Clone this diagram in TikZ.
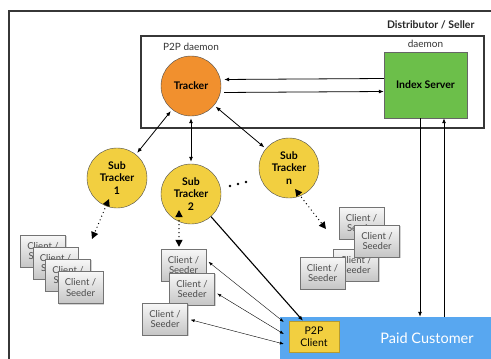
\documentclass[tikz,border=0pt]{standalone}
\usepackage{fontspec}
\setmainfont{Lato}
\usetikzlibrary{arrows.meta,positioning,shadows,calc}
\definecolor{trkorange}{RGB}{241,144,46}
\definecolor{subgelb}{RGB}{242,207,64}
\definecolor{idxgruen}{RGB}{108,191,74}
\definecolor{kundblau}{RGB}{88,167,240}
\definecolor{rand}{RGB}{55,55,55}
\tikzset{
  rahmen/.style={draw=rand,line width=1.4pt},
  trk/.style={circle,draw=black!70,fill=trkorange,minimum size=60pt,inner sep=0pt,
    align=center,font=\bfseries\fontsize{10.5}{12.3}\selectfont},
  subtrk/.style={trk,fill=subgelb},
  server/.style={rectangle,draw=black!60,fill=idxgruen,minimum width=83pt,minimum height=66pt,
    font=\bfseries\fontsize{10.5}{12}\selectfont},
  client/.style={rectangle,draw=black!55,top color=gray!6,bottom color=gray!45,
    minimum width=45pt,minimum height=32pt,inner sep=1pt,align=center,text=black!70,
    font=\fontsize{9.5}{10.5}\selectfont,
    drop shadow={opacity=0.35,shadow xshift=1pt,shadow yshift=-1pt}},
  etikett/.style={font=\fontsize{10}{12}\selectfont,text=black!80},
  pfeil/.style={-{Latex[length=5pt,width=4pt]},line width=0.8pt},
  dpfeil/.style={{Latex[length=5pt,width=4pt]}-{Latex[length=5pt,width=4pt]},line width=0.8pt},
  dunn/.style={{Latex[length=4pt,width=3pt]}-{Latex[length=4pt,width=3pt]},line width=0.4pt},
  punkt/.style={{Triangle[length=7pt,width=7pt]}-{Triangle[length=7pt,width=7pt]},
    line width=1.4pt,dash pattern=on 0pt off 4pt,line cap=round},
}
\begin{document}
\begin{tikzpicture}[x=1pt,y=-1pt]
  \useasboundingbox (0,0) rectangle (491,359);
  \clip (0,0) rectangle (491,359);
  \draw[rahmen] (9,11) rectangle (505,375);
  \node[anchor=east,font=\fontsize{10.5}{12}\selectfont\bfseries,text=black!85] (dist) at (478,25) {Distributor / Seller};
  \draw[rahmen] (141,36) rectangle (484,128);
  \node[etikett] (p2pd) at (191,47) {P2P daemon};
  \node[etikett] (daem) at (425.5,44) {daemon};
  \node[trk] (tracker) at (191,86) {Tracker};
  \node[server] (index) at (425.5,85) {Index Server};
  \draw[pfeil,shorten >=3pt] ([yshift=6.5pt]index.west) -- ([yshift=6.5pt]tracker.east);
  \draw[pfeil,shorten <=3pt] ([yshift=-6.5pt]tracker.east) -- ([yshift=-6.5pt]index.west);
  \node[subtrk] (st1) at (117,178) {Sub\\Tracker\\1};
  \node[subtrk] (st2) at (191,194) {Sub\\Tracker\\2};
  \node[subtrk] (stn) at (289,168) {Sub\\Tracker\\n};
  \draw[dpfeil,shorten >=2pt,shorten <=2pt] (tracker) -- (st1);
  \draw[dpfeil,shorten >=2pt,shorten <=2pt] (tracker) -- (st2);
  \draw[dpfeil,shorten >=2pt,shorten <=2pt] (tracker) -- (stn);
  \foreach \x/\y in {230/186,238/184,246/182}
    \fill (\x,\y) circle (1.3pt);
  % client stacks
  \node[client] (c1a) at (43,251) {Client /\\Seeder};
  \node[client] (c1b) at (55.5,263) {Client /\\Seeder};
  \node[client] (c1c) at (68,275) {Client /\\Seeder};
  \node[client] (c1d) at (80.5,287.5) {Client /\\Seeder};
  \node[client] (c2a) at (183.5,265) {Client /\\Seeder};
  \node[client] (c2b) at (192,289) {Client /\\Seeder};
  \node[client] (c2c) at (165,319) {Client /\\Seeder};
  \node[client] (cna) at (361.5,223) {Client /\\Seeder};
  \node[client] (cnc) at (356,265) {Client /\\Seeder};
  \node[client] (cnb) at (377,241) {Client /\\Seeder};
  \node[client] (cnd) at (322.5,273) {Client /\\Seeder};
  \coordinate (e1) at (92,239);
  \coordinate (en) at (326,229);
  \draw[punkt] ([shift={(-8,21)}]st1.center) -- (e1);
  \draw[punkt,shorten >=2pt] ([shift={(-12,16)}]st2.center) -- ([xshift=-4.5pt]c2a.north);
  \draw[punkt] ([shift={(6,21)}]stn.center) -- (en);
  % customer
  \node[rectangle,fill=kundblau,minimum width=294pt,minimum height=42pt,inner sep=0pt,
    text=white,font=\fontsize{14.5}{16}\selectfont] (kunde) at (427,338) {Paid Customer};
  \node[rectangle,draw=black!25!subgelb,fill=subgelb,minimum width=50pt,minimum height=31pt,
    inner sep=1pt,align=center,font=\fontsize{10.5}{12}\selectfont] (p2pc) at (314,336.5) {P2P\\Client};
  \draw[pfeil,line width=1.1pt] (st2) -- ([xshift=-11pt]p2pc.north);
  \draw[pfeil] ([xshift=-5.5pt]index.south) -- ([xshift=-5.5pt]index.south |- kunde.north);
  \draw[pfeil] ([xshift=18.5pt]index.south |- kunde.north) -- ([xshift=18.5pt]index.south);
  \draw[dunn,shorten <=3pt] ([yshift=5pt]c2a.east) -- ([shift={(4pt,16pt)}]kunde.west);
  \draw[dunn,shorten <=3pt] ([yshift=-3pt]c2b.east) -- ([shift={(4pt,4pt)}]kunde.west);
  \draw[dunn,shorten <=3pt] (c2c.east) -- ([shift={(4pt,-6pt)}]kunde.west);
\end{tikzpicture}
\end{document}
